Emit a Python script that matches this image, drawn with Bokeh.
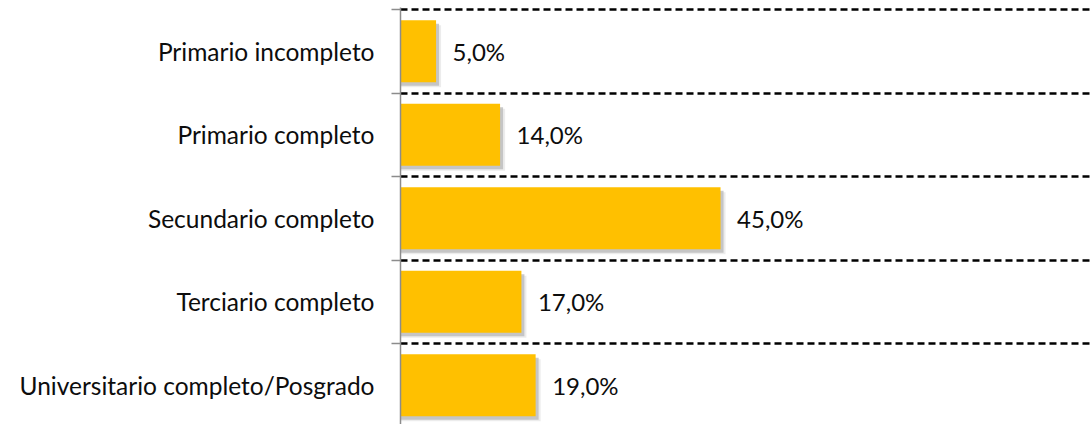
from bokeh.plotting import figure
from bokeh.models import Range1d, FixedTicker, Grid, ColumnDataSource
from bokeh.core.properties import value
from bokeh.embed import file_html
from bokeh.resources import INLINE

categories = ["Primario incompleto", "Primario completo", "Secundario completo",
              "Terciario completo", "Universitario completo/Posgrado"]
values = [5.0, 14.0, 45.0, 17.0, 19.0]
value_labels = ["5,0%", "14,0%", "45,0%", "17,0%", "19,0%"]

FONT = "Lato"
W, H = 1092, 424
LEFT = 400
TOP = 7
BAND_PX = 83.5
X_MAX = 97.3
Y_TOP = -0.5 - 2 / BAND_PX
Y_BOTTOM = Y_TOP + (H - TOP) / BAND_PX

idx = list(range(len(categories)))
boundaries = [i - 0.5 for i in range(len(categories) + 1)]

px_per_x = (W - LEFT) / X_MAX

src = ColumnDataSource(dict(
    y=idx,
    v=values,
    lbl=value_labels,
    sh_right=[v + 3 / px_per_x for v in values],
    sh_y=[i + 3.5 / BAND_PX for i in idx],
    sh2_right=[v + 5 / px_per_x for v in values],
    sh2_y=[i + 5 / BAND_PX for i in idx],
    lx=[v + 16.5 / px_per_x for v in values],
))

p = figure(width=W, height=H, output_backend="svg", toolbar_location=None,
           x_range=Range1d(0, X_MAX), y_range=Range1d(Y_BOTTOM, Y_TOP),
           min_border_left=LEFT, min_border_right=0, min_border_top=TOP,
           min_border_bottom=0, outline_line_color=None)

p.xaxis.visible = False
p.xgrid.visible = False
p.ygrid.visible = False

grid = Grid(dimension=1, ticker=FixedTicker(ticks=boundaries),
            grid_line_color="black", grid_line_width=2.3, grid_line_dash="7 4")
p.add_layout(grid)

# soft shadow (two layers)
p.hbar(y="sh2_y", left=0, right="sh2_right", height=0.74, source=src,
       fill_color="#d0d0d0", fill_alpha=0.4, line_color=None)
p.hbar(y="sh_y", left=0, right="sh_right", height=0.74, source=src,
       fill_color="#b8b8b8", fill_alpha=0.75, line_color=None)
p.hbar(y="y", left=0, right="v", height=0.74, source=src,
       fill_color="#FFC000", line_color=None)

p.text(x="lx", y="y", text="lbl", source=src, text_font=value(FONT),
       text_font_size="24px", text_color="#0d0d0d", text_align="left",
       text_baseline="middle")

ax = p.yaxis[0]
ax.ticker = FixedTicker(ticks=idx, minor_ticks=boundaries)
ax.major_label_overrides = {i: c for i, c in zip(idx, categories)}
ax.major_tick_line_color = None
ax.major_tick_out = 0
ax.major_tick_in = 0
ax.minor_tick_line_color = "#8c8c8c"
ax.minor_tick_line_width = 1.5
ax.minor_tick_out = 9
ax.minor_tick_in = 0
ax.axis_line_color = "#8c8c8c"
ax.axis_line_width = 1.5
ax.major_label_standoff = 17
ax.major_label_text_font = FONT
ax.major_label_text_font_size = "24.5px"
ax.major_label_text_color = "#0d0d0d"

open("out.html", "w").write(file_html(p, INLINE))
